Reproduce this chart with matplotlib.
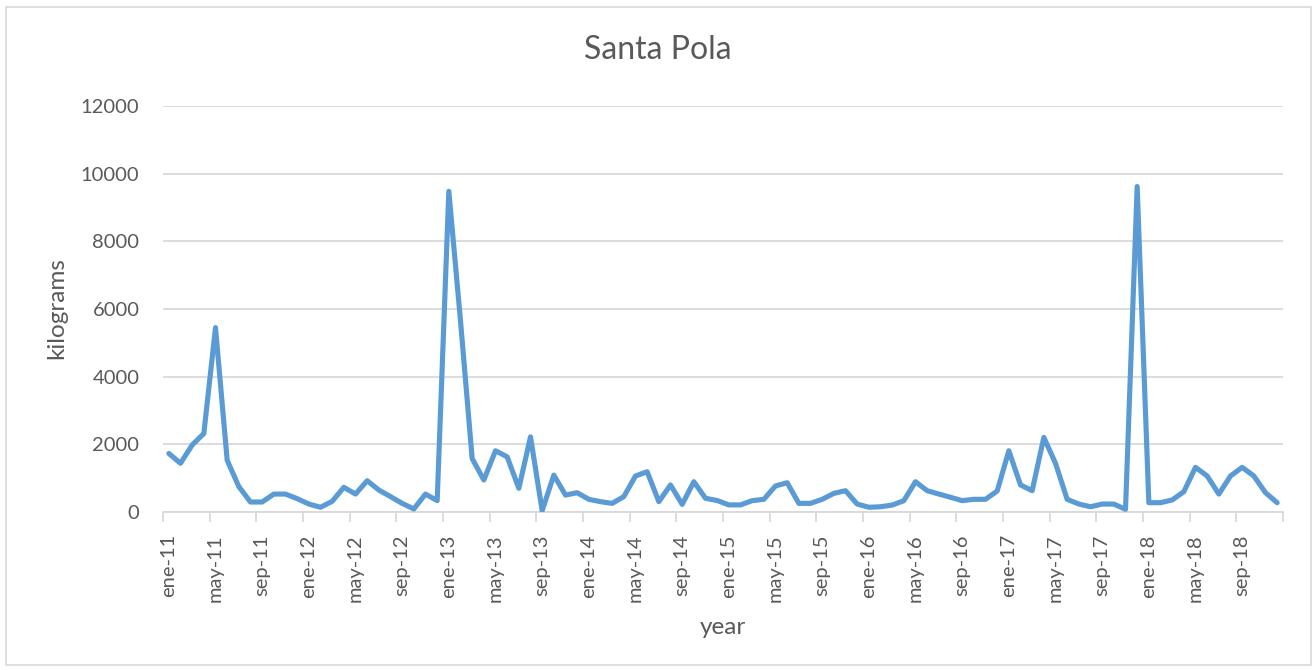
import numpy as np
import matplotlib.pyplot as plt
from matplotlib.patches import Rectangle

# monthly landings, jan-2011 .. dec-2018
kg_2011 = [1730, 1440, 1980, 2320, 5450, 1530, 750, 295, 295, 530, 530, 395]
kg_2012 = [235, 140, 315, 730, 530, 925, 650, 455, 255, 90, 530, 335]
kg_2013 = [9480, 5650, 1580, 945, 1810, 1630, 700, 2220, 40, 1090, 500, 570]
kg_2014 = [375, 305, 255, 455, 1065, 1190, 305, 800, 225, 895, 405, 340]
kg_2015 = [210, 210, 335, 375, 770, 865, 255, 255, 375, 550, 630, 235]
kg_2016 = [140, 155, 205, 335, 895, 630, 530, 435, 335, 375, 375, 620]
kg_2017 = [1810, 800, 630, 2205, 1440, 375, 235, 155, 235, 235, 80, 9620]
kg_2018 = [275, 275, 355, 600, 1320, 1065, 530, 1065, 1320, 1065, 570, 275]

years = [11, 12, 13, 14, 15, 16, 17, 18]
months = ['ene', 'feb', 'mar', 'abr', 'may', 'jun',
          'jul', 'ago', 'sep', 'oct', 'nov', 'dic']

kg = np.array(kg_2011 + kg_2012 + kg_2013 + kg_2014 +
              kg_2015 + kg_2016 + kg_2017 + kg_2018)
labels = [f'{m}-{y}' for y in years for m in months]

grey = '#595959'
plt.rcParams['font.family'] = ['Lato', 'DejaVu Sans']

fig = plt.figure(figsize=(13.16, 6.70), dpi=100)
ax = fig.add_axes([163/1316, 1 - 512/670, 1120/1316, 406/670])

x = np.arange(len(kg))
ax.plot(x, kg, color='#5b9bd5', lw=3.7, solid_joinstyle='round',
        solid_capstyle='round', zorder=3)

ax.set_xlim(-0.5, len(kg) - 0.5)
ax.set_ylim(0, 12000)
ax.set_yticks(np.arange(0, 12001, 2000))
ax.grid(axis='y', color='#d9d9d9', lw=1.3)
ax.set_axisbelow(True)

ax.set_xticks(x[::4])
ax.set_xticklabels(labels[::4], rotation=90)
ax.set_xticks(np.arange(-0.5, len(kg), 4), minor=True)
ax.tick_params(axis='x', which='major', length=0, pad=16,
               labelsize=14.5, labelcolor=grey)
ax.tick_params(axis='x', which='minor', length=7, width=1.3, color='#d9d9d9')
ax.tick_params(axis='y', length=0, pad=17, labelsize=14.5, labelcolor=grey)

for s in ['top', 'right', 'left']:
    ax.spines[s].set_visible(False)
ax.spines['bottom'].set_color('#d9d9d9')
ax.spines['bottom'].set_linewidth(1.3)

fig.text(658/1316, 1 - 50/670, 'Santa Pola', ha='center', va='center',
         fontsize=23, color=grey)
fig.text(723/1316, 1 - 627/670, 'year', ha='center', va='center',
         fontsize=17.5, color=grey)
fig.text(57/1316, 1 - 308/670, 'kilograms', ha='center', va='center',
         rotation=90, fontsize=17.5, color=grey)

# chart frame
fig.patches.append(Rectangle((6/1316, 1 - 665/670), 1305/1316, 658/670,
                             transform=fig.transFigure, fill=False,
                             edgecolor='#d9d9d9', lw=1.2))

fig.savefig('out.png', dpi=100)
